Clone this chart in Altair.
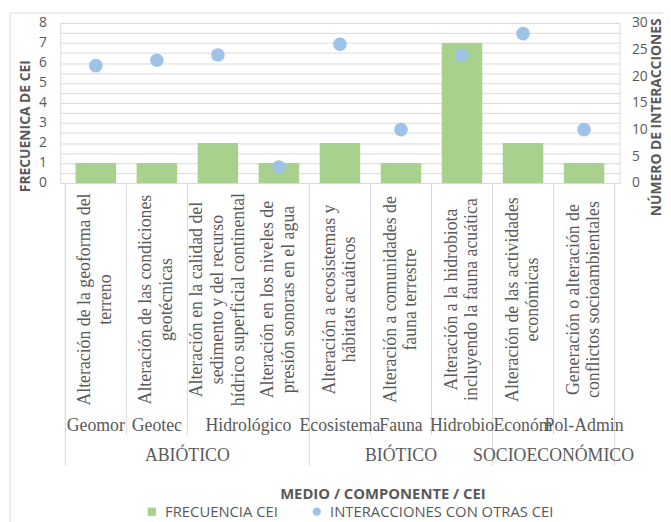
import altair as alt
import pandas as pd

# ---------------- data ----------------
cei = [
    "Alteración de la geoforma del\nterreno",
    "Alteración de las condiciones\ngeotécnicas",
    "Alteración en la calidad del\nsedimento y del recurso\nhídrico superficial continental",
    "Alteración en los niveles de\npresión sonoras en el agua",
    "Alteración a ecosistemas y\nhábitats acuáticos",
    "Alteración a comunidades de\nfauna terrestre",
    "Alteración a la hidrobiota\nincluyendo la fauna acuática",
    "Alteración de las actividades\neconómicas",
    "Generación o alteración de\nconflictos socioambientales",
]
frecuencia = [1, 1, 2, 1, 2, 1, 7, 2, 1]
interacciones = [22, 23, 24, 3, 26, 10, 24, 28, 10]

componentes = ["Geomor", "Geotec", "Hidrológico", "Ecosistema", "Fauna",
               "Hidrobio", "Económ", "Pol-Admin"]
comp_n = [1, 1, 2, 1, 1, 1, 1, 1]

medios = ["ABIÓTICO", "BIÓTICO", "SOCIOECONÓMICO"]
medio_n = [4, 3, 2]

series = ["FRECUENCIA CEI", "INTERACCIONES CON OTRAS CEI"]
colors = ["#a9d18e", "#9dc3e6"]

# ---------------- tables ----------------
main_df = pd.DataFrame({
    "pos": [i + 0.5 for i in range(len(cei))],
    "cei": cei,
    "nl": [c.count("\n") + 1 for c in cei],
    "freq": frecuencia,
    "inter": interacciones,
})


def spans(names, counts):
    rows, start = [], 0
    for n, c in zip(names, counts):
        rows.append({"name": n, "center": start + c / 2})
        start += c
    return pd.DataFrame(rows)


def bounds(counts):
    b, s = [0], 0
    for c in counts:
        s += c
        b.append(s)
    return pd.DataFrame({"b": b})


comp_df = spans(componentes, comp_n)
medio_df = spans(medios, medio_n)
comp_b = bounds(comp_n)
medio_b = bounds(medio_n)
one = pd.DataFrame({"k": [0]})

GRAY = "#595959"
LINE = "#d9d9d9"
SERIF = "'Liberation Serif', 'Times New Roman', Times, serif"
SANS = "Open Sans"
SERIF_SIZE = 18
LH = 21

xscale = alt.Scale(domain=[0, len(cei)], nice=False, zero=False)
xaxis = alt.Axis(
    labels=False, ticks=False, grid=False, domain=True, domainColor=LINE,
    title="MEDIO / COMPONENTE / CEI", titleFont=SANS, titleFontSize=15,
    titleFontWeight="bold", titleColor=GRAY, titleX=326, titleY=314,
    titleBaseline="middle", titleAlign="center")
color_scale = alt.Scale(domain=series, range=colors)
shape_scale = alt.Scale(domain=series, range=["square", "circle"])
legend = alt.Legend(
    orient="none", legendX=85, legendY=487, direction="horizontal",
    title=None, labelFont=SANS, labelFontSize=15, labelColor=GRAY, labelLimit=0,
    symbolSize=70, symbolOpacity=1, columnPadding=31, labelOffset=6, padding=0,
)

left_vals = [i / 2 for i in range(17)]

bars = alt.Chart(main_df).mark_bar(size=41).transform_calculate(
    serie="'FRECUENCIA CEI'"
).encode(
    x=alt.X("pos:Q", scale=xscale, axis=xaxis),
    y=alt.Y("freq:Q", scale=alt.Scale(domain=[0, 8], nice=False), axis=alt.Axis(
        values=left_vals,
        labelExpr="datum.value % 1 == 0 ? format(datum.value, 'd') : ''",
        grid=True, gridColor=LINE, domain=False, ticks=False, labelPadding=14,
        labelFont=SANS, labelFontSize=14, labelColor=GRAY,
        title="FRECUENICA DE CEI", titleFont=SANS, titleFontSize=14,
        titleFontWeight="bold", titleColor=GRAY, titleAngle=270,
        titleX=-35, titleY=104, titleBaseline="middle", titleAlign="center")),
    color=alt.Color("serie:N", scale=color_scale, legend=legend),
)

points = alt.Chart(main_df).mark_point(filled=True, size=190, opacity=1).transform_calculate(
    serie="'INTERACCIONES CON OTRAS CEI'"
).encode(
    x=alt.X("pos:Q", scale=xscale, axis=xaxis),
    y=alt.Y("inter:Q", scale=alt.Scale(domain=[0, 30], nice=False), axis=alt.Axis(
        orient="right", values=[0, 5, 10, 15, 20, 25, 30], grid=False,
        domain=False, ticks=False, labelPadding=12, labelFont=SANS,
        labelFontSize=14, labelColor=GRAY,
        title="NÚMERO DE INTERACCIONES", titleFont=SANS, titleFontSize=14,
        titleFontWeight="bold", titleColor=GRAY, titleAngle=270,
        titleX=37, titleY=95, titleBaseline="middle", titleAlign="center")),
    color=alt.Color("serie:N", scale=color_scale, legend=legend),
    shape=alt.Shape("serie:N", scale=shape_scale, legend=legend),
)

# vertical CEI labels: multi-line blocks centred on the category
cei_layers = []
for n in sorted(set(main_df["nl"])):
    cei_layers.append(
        alt.Chart(main_df).transform_filter(f"datum.nl == {n}").mark_text(
            angle=270, align="center", baseline="middle", lineBreak="\n",
            font=SERIF, fontSize=SERIF_SIZE, lineHeight=LH, color=GRAY,
            dy=-(n - 1) * LH / 2,
        ).encode(x=alt.X("pos:Q", scale=xscale, axis=xaxis), y=alt.value(280),
                 text="cei:N")
    )

comp_text = alt.Chart(comp_df).mark_text(
    align="center", baseline="middle", font=SERIF, fontSize=SERIF_SIZE, color=GRAY,
).encode(x=alt.X("center:Q", scale=xscale, axis=xaxis), y=alt.value(408), text="name:N")

medio_text = alt.Chart(medio_df).mark_text(
    align="center", baseline="middle", font=SERIF, fontSize=SERIF_SIZE, color=GRAY,
).encode(x=alt.X("center:Q", scale=xscale, axis=xaxis), y=alt.value(438), text="name:N")

comp_rules = alt.Chart(comp_b).mark_rule(color=LINE, strokeWidth=1).encode(
    x=alt.X("b:Q", scale=xscale, axis=xaxis), y=alt.value(162), y2=alt.value(417))

medio_rules = alt.Chart(medio_b).mark_rule(color=LINE, strokeWidth=1).encode(
    x=alt.X("b:Q", scale=xscale, axis=xaxis), y=alt.value(162), y2=alt.value(448))

border_left = alt.Chart(one).mark_rule(color=LINE).encode(
    x=alt.value(-51), y=alt.value(-10), y2=alt.value(520))
border_top = alt.Chart(one).mark_rule(color=LINE).encode(
    x=alt.value(-51), x2=alt.value(620), y=alt.value(-10))

chart = alt.layer(
    bars, points, comp_rules, medio_rules, *cei_layers, comp_text, medio_text,
    border_left, border_top,
).resolve_scale(
    y="independent"
).properties(
    width=566, height=162,
    autosize=alt.AutoSizeParams(type="none"),
    padding={"left": 53, "top": 12, "right": 44, "bottom": 340},
).configure_view(stroke=None).configure(background="white")

chart.save("out.html", embed_options={"renderer": "svg", "actions": False})
